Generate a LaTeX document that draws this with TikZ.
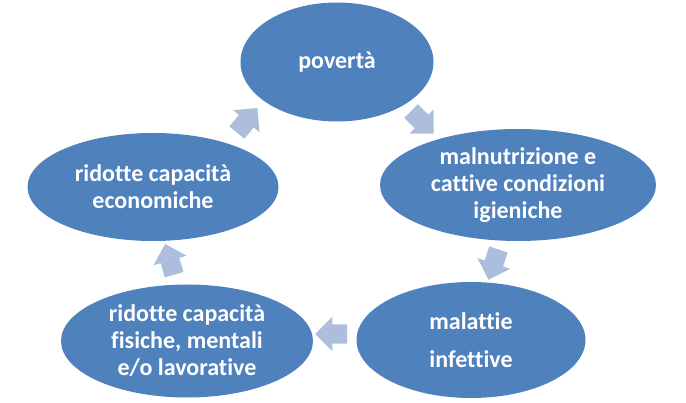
\documentclass[tikz,border=0pt]{standalone}
\usepackage{fontspec}
\setmainfont{Carlito}[Ligatures=NoCommon]
\usetikzlibrary{shapes.geometric,shapes.arrows}
\definecolor{cyclefill}{HTML}{4F81BD}
\definecolor{arrowfill}{HTML}{ADBEDD}

\begin{document}
\begin{tikzpicture}[x=1pt,y=-1pt,
   e/.style={ellipse,fill=cyclefill,text=white,font=\fontsize{24}{27}\selectfont\bfseries,
             align=center,inner sep=0pt},
   a/.style={single arrow,fill=arrowfill,minimum height=32pt,inner xsep=0pt,inner ysep=9.5pt,
             single arrow head extend=7.5pt}]
  \useasboundingbox (0,0) rectangle (686,403);
  \node[e,minimum width=193pt,minimum height=119pt] (pov) at (337,62) {povertà};
  \node[e,minimum width=276pt,minimum height=112pt] (mal) at (518,185) {malnutrizione e\\cattive condizioni\\igieniche};
  \node[e,minimum width=229pt,minimum height=116pt] (inf) at (471,340) {malattie\\[11pt]infettive};
  \node[e,minimum width=252pt,minimum height=113pt] (fis) at (187,341) {ridotte capacità\\fisiche, mentali\\e/o lavorative};
  \node[e,minimum width=251pt,minimum height=108pt] (eco) at (153,187) {ridotte capacità\\economiche};
  \foreach \x/\y/\r [count=\i] in {244/124/50, 419/119/-45, 495/260/-108, 336/334/180, 171/264/106}
    \node[a,rotate=\r] (a\i) at (\x,\y) {};
\end{tikzpicture}
\end{document}
